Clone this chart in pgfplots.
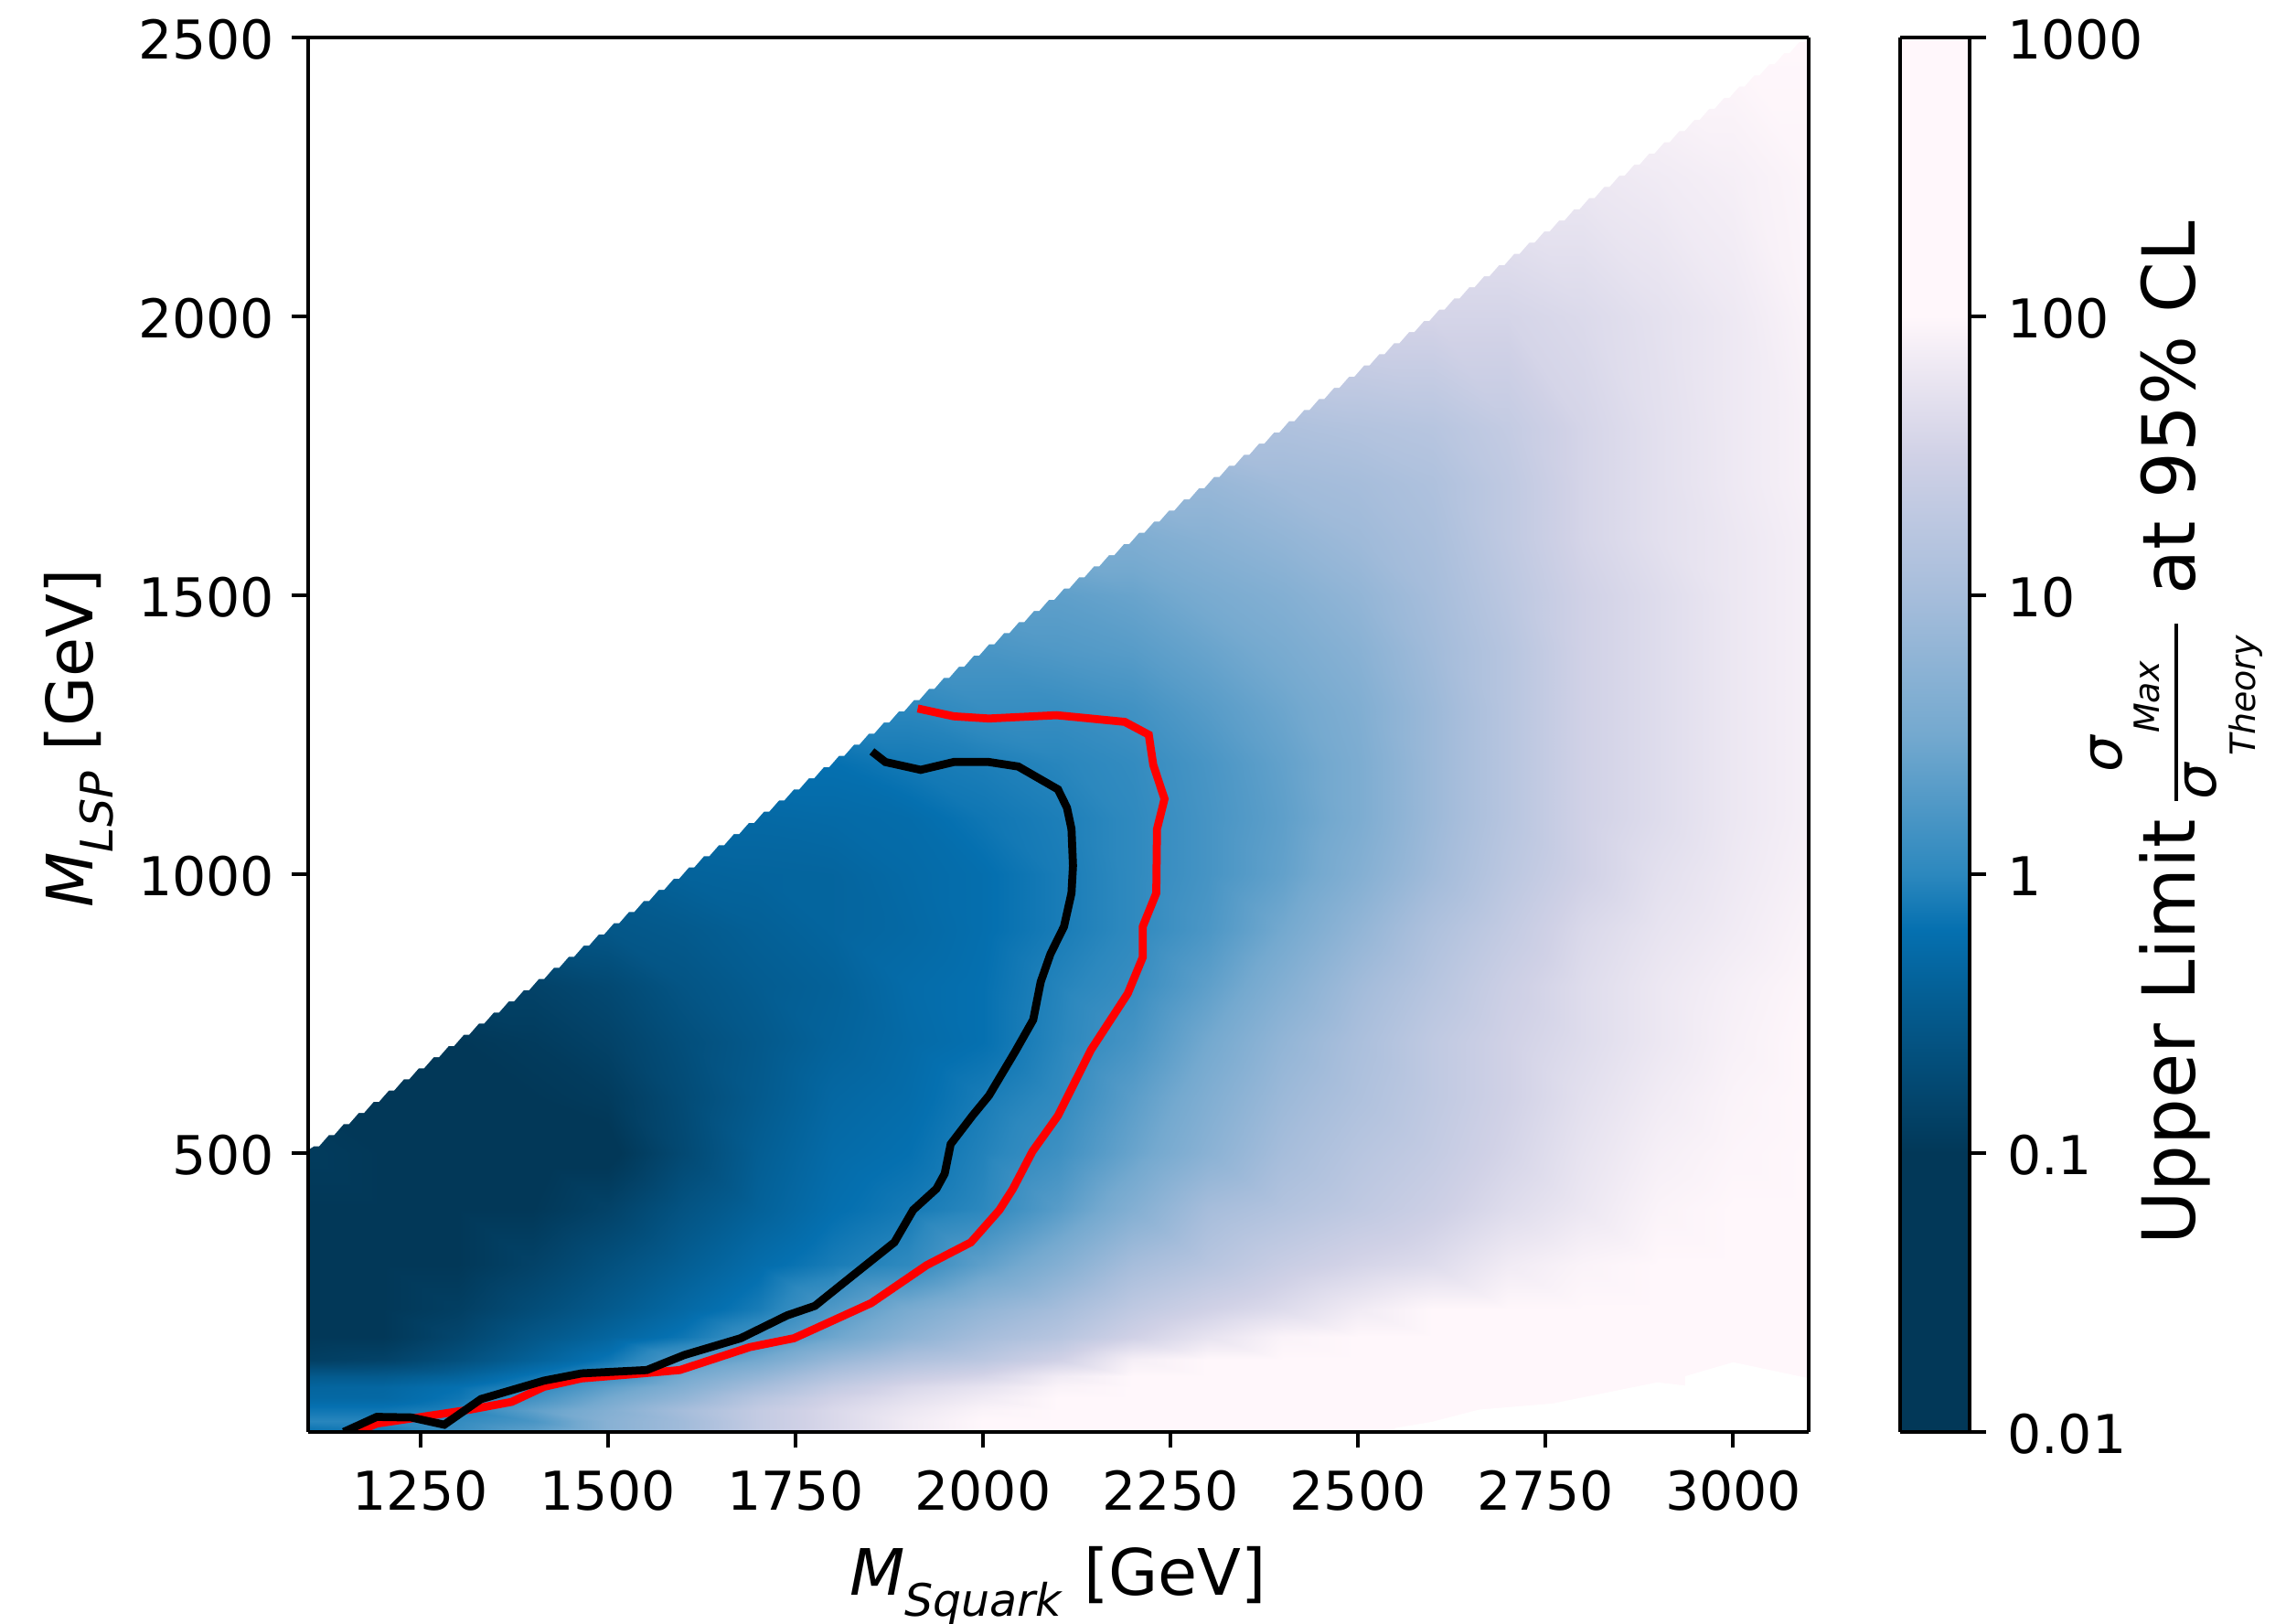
\documentclass[border=0pt]{standalone}
\usepackage{fontspec}
\setmainfont{DejaVu Sans}
\usepackage{pgfplots}
\pgfplotsset{compat=1.18}
\pgfplotsset{
  colormap={pubu}{
    rgb255(0cm)=(2,56,88); rgb255(10cm)=(2,56,88); rgb255(15cm)=(4,90,141);
    rgb255(18cm)=(5,112,176); rgb255(20cm)=(44,136,190); rgb255(25cm)=(116,169,207);
    rgb255(30cm)=(166,189,219); rgb255(35cm)=(208,209,230); rgb255(38cm)=(236,231,242);
    rgb255(40cm)=(255,247,251); rgb255(50cm)=(255,247,251)},
  colormap name=pubu,
  tick style={black,line width=0.8pt},
  major tick length=3.5pt,
}
\newcommand{\tl}{\fontsize{11.7}{12}\selectfont}
\newcommand{\al}{\fontsize{14}{14}\selectfont}
\begin{document}
\begin{tikzpicture}
\useasboundingbox (0,0) rectangle (500pt,355.2pt);
\begin{axis}[
  at={(67.3pt,42pt)},anchor=south west,scale only axis,width=328.2pt,height=305pt,
  view={0}{90},
  xmin=1100,xmax=3100,ymin=0,ymax=2500,
  point meta min=-2,point meta max=3,
  axis on top,axis line style={line width=0.8pt},
  tick align=outside,xtick pos=bottom,ytick pos=left,ztick=\empty,
  minor tick num=0,
  xtick={1250,1500,1750,2000,2250,2500,2750,3000},
  xticklabels={1250,1500,1750,2000,2250,2500,2750,3000},
  ytick={500,1000,1500,2000,2500},
  yticklabels={500,1000,1500,2000,2500},
  tick label style={font=\tl,inner sep=0pt},
  xticklabel style={yshift=-4.8pt},
  yticklabel style={xshift=-3.6pt,yshift=-0.5pt},
  xlabel={\al\textit{M}\raisebox{-0.32em}{\fontsize{9.8}{10}\selectfont\textit{Squark}} [GeV]},
  ylabel={\al\textit{M}\raisebox{-0.32em}{\fontsize{9.8}{10}\selectfont\textit{LSP}} [GeV]},
  every axis x label/.style={at={(axis description cs:0.5,0)},anchor=base,yshift=-35.8pt},
  every axis y label/.style={at={(axis description cs:-0.1432,0.4975)},rotate=90,anchor=base},
]
\addplot3[surf,shader=interp,mesh/cols=21,point meta=z,mesh/ordering=x varies] coordinates {
(1100,0,-0.2)(1200,0,-0.15)(1300,0,0.1)(1400,0,0.35)(1500,0,0.7)(1600,0,0.95)(1700,0,1.35)(1800,0,1.6)(1900,0,1.85)(2000,0,2)(2100,0,2)(2200,0,2)(2300,0,2)(2400,0,2)(2500,0,2)(2600,0,2)(2700,0,2)(2800,0,2)(2900,0,2)(3000,0,2)(3100,0,2)
(1100,20,-0.02)(1200,20,-0.02)(1300,20,0.05)(1400,20,0.2)(1500,20,0.7)(1600,20,0.95)(1700,20,1.35)(1800,20,1.6)(1900,20,1.85)(2000,20,2)(2100,20,2)(2200,20,2)(2300,20,2)(2400,20,2)(2500,20,2)(2600,20,2)(2700,20,2)(2800,20,2)(2900,20,2)(3000,20,2)(3100,20,2)
(1100,40,-0.15)(1200,40,-0.15)(1300,40,-0.05)(1400,40,0.35)(1500,40,0.65)(1600,40,1)(1700,40,1.35)(1800,40,1.6)(1900,40,1.8)(2000,40,1.95)(2100,40,2)(2200,40,2)(2300,40,2)(2400,40,2)(2500,40,2)(2600,40,2)(2700,40,2)(2800,40,2)(2900,40,2)(3000,40,2)(3100,40,2)
(1100,60,-0.3)(1200,60,-0.3)(1300,60,-0.15)(1400,60,0.15)(1500,60,0.5)(1600,60,0.8)(1700,60,1.2)(1800,60,1.5)(1900,60,1.7)(2000,60,1.85)(2100,60,2)(2200,60,2)(2300,60,2)(2400,60,2)(2500,60,2)(2600,60,2)(2700,60,2)(2800,60,2)(2900,60,2)(3000,60,2)(3100,60,2)
(1100,80,-0.35)(1200,80,-0.33)(1300,80,-0.2)(1400,80,0)(1500,80,0.35)(1600,80,0.65)(1700,80,1)(1800,80,1.35)(1900,80,1.6)(2000,80,1.75)(2100,80,1.95)(2200,80,2)(2300,80,2)(2400,80,2)(2500,80,2)(2600,80,2)(2700,80,2)(2800,80,2)(2900,80,2)(3000,80,2)(3100,80,2)
(1100,100,-0.5)(1200,100,-0.5)(1300,100,-0.38)(1400,100,-0.15)(1500,100,0.1)(1600,100,0.5)(1700,100,0.8)(1800,100,1.15)(1900,100,1.4)(2000,100,1.55)(2100,100,1.85)(2200,100,2)(2300,100,2)(2400,100,2)(2500,100,2)(2600,100,2)(2700,100,2)(2800,100,2)(2900,100,2)(3000,100,2)(3100,100,2)
(1100,130,-0.9)(1200,130,-0.85)(1300,130,-0.65)(1400,130,-0.4)(1500,130,-0.15)(1600,130,0.25)(1700,130,0.5)(1800,130,0.85)(1900,130,1.1)(2000,130,1.25)(2100,130,1.5)(2200,130,1.9)(2300,130,2)(2400,130,2)(2500,130,2)(2600,130,2)(2700,130,2)(2800,130,2)(2900,130,2)(3000,130,2)(3100,130,2)
(1100,170,-1)(1200,170,-1)(1300,170,-0.8)(1400,170,-0.55)(1500,170,-0.35)(1600,170,-0.15)(1700,170,0.15)(1800,170,0.45)(1900,170,0.75)(2000,170,1)(2100,170,1.2)(2200,170,1.5)(2300,170,1.75)(2400,170,1.95)(2500,170,2)(2600,170,2)(2700,170,2)(2800,170,2)(2900,170,2)(3000,170,2)(3100,170,2)
(1100,220,-1)(1200,220,-1)(1300,220,-0.9)(1400,220,-0.7)(1500,220,-0.5)(1600,220,-0.3)(1700,220,-0.1)(1800,220,0.25)(1900,220,0.55)(2000,220,0.8)(2100,220,1)(2200,220,1.3)(2300,220,1.5)(2400,220,1.65)(2500,220,1.85)(2600,220,2)(2700,220,2)(2800,220,2)(2900,220,2)(3000,220,2)(3100,220,2)
(1100,300,-1)(1200,300,-1)(1300,300,-1)(1400,300,-0.85)(1500,300,-0.65)(1600,300,-0.45)(1700,300,-0.25)(1800,300,-0.1)(1900,300,0.02)(2000,300,0.35)(2100,300,0.65)(2200,300,1)(2300,300,1.2)(2400,300,1.4)(2500,300,1.55)(2600,300,1.65)(2700,300,1.85)(2800,300,1.95)(2900,300,2)(3000,300,2)(3100,300,2)
(1100,400,-1)(1200,400,-1)(1300,400,-1)(1400,400,-1)(1500,400,-0.85)(1600,400,-0.6)(1700,400,-0.4)(1800,400,-0.22)(1900,400,-0.12)(2000,400,0)(2100,400,0.3)(2200,400,0.65)(2300,400,1)(2400,400,1.15)(2500,400,1.3)(2600,400,1.45)(2700,400,1.65)(2800,400,1.8)(2900,400,1.95)(3000,400,2)(3100,400,2)
(1100,500,-0.95)(1200,500,-1)(1300,500,-1.05)(1400,500,-1.05)(1500,500,-1.05)(1600,500,-0.75)(1700,500,-0.45)(1800,500,-0.27)(1900,500,-0.2)(2000,500,-0.05)(2100,500,0.12)(2200,500,0.42)(2300,500,0.72)(2400,500,1)(2500,500,1.2)(2600,500,1.35)(2700,500,1.55)(2800,500,1.75)(2900,500,1.9)(3000,500,1.97)(3100,500,2)
(1100,600,-1)(1200,600,-1)(1300,600,-1)(1400,600,-1)(1500,600,-0.95)(1600,600,-0.72)(1700,600,-0.5)(1800,600,-0.32)(1900,600,-0.25)(2000,600,-0.1)(2100,600,0.03)(2200,600,0.32)(2300,600,0.62)(2400,600,0.9)(2500,600,1.1)(2600,600,1.3)(2700,600,1.5)(2800,600,1.7)(2900,600,1.85)(3000,600,1.95)(3100,600,2)
(1100,700,-1)(1200,700,-1)(1300,700,-1)(1400,700,-0.95)(1500,700,-0.85)(1600,700,-0.67)(1700,700,-0.52)(1800,700,-0.38)(1900,700,-0.28)(2000,700,-0.2)(2100,700,-0.02)(2200,700,0.18)(2300,700,0.5)(2400,700,0.8)(2500,700,1.05)(2600,700,1.3)(2700,700,1.5)(2800,700,1.65)(2900,700,1.8)(3000,700,1.92)(3100,700,2)
(1100,800,-0.85)(1200,800,-0.85)(1300,800,-0.85)(1400,800,-0.85)(1500,800,-0.75)(1600,800,-0.58)(1700,800,-0.47)(1800,800,-0.4)(1900,800,-0.26)(2000,800,-0.2)(2100,800,-0.04)(2200,800,0.08)(2300,800,0.35)(2400,800,0.65)(2500,800,0.95)(2600,800,1.2)(2700,800,1.45)(2800,800,1.65)(2900,800,1.8)(3000,800,1.9)(3100,800,1.98)
(1100,900,-0.6)(1200,900,-0.6)(1300,900,-0.6)(1400,900,-0.6)(1500,900,-0.55)(1600,900,-0.5)(1700,900,-0.42)(1800,900,-0.35)(1900,900,-0.3)(2000,900,-0.22)(2100,900,-0.1)(2200,900,0.02)(2300,900,0.22)(2400,900,0.5)(2500,900,0.8)(2600,900,1.1)(2700,900,1.35)(2800,900,1.6)(2900,900,1.75)(3000,900,1.85)(3100,900,1.95)
(1100,1000,-0.45)(1200,1000,-0.45)(1300,1000,-0.45)(1400,1000,-0.45)(1500,1000,-0.45)(1600,1000,-0.38)(1700,1000,-0.36)(1800,1000,-0.35)(1900,1000,-0.28)(2000,1000,-0.22)(2100,1000,-0.1)(2200,1000,0.02)(2300,1000,0.18)(2400,1000,0.38)(2500,1000,0.65)(2600,1000,0.95)(2700,1000,1.25)(2800,1000,1.5)(2900,1000,1.7)(3000,1000,1.82)(3100,1000,1.92)
(1100,1100,-0.3)(1200,1100,-0.3)(1300,1100,-0.3)(1400,1100,-0.3)(1500,1100,-0.3)(1600,1100,-0.3)(1700,1100,-0.3)(1800,1100,-0.28)(1900,1100,-0.25)(2000,1100,-0.15)(2100,1100,-0.08)(2200,1100,0.02)(2300,1100,0.18)(2400,1100,0.35)(2500,1100,0.58)(2600,1100,0.9)(2700,1100,1.2)(2800,1100,1.5)(2900,1100,1.65)(3000,1100,1.8)(3100,1100,1.9)
(1100,1200,-0.2)(1200,1200,-0.2)(1300,1200,-0.2)(1400,1200,-0.2)(1500,1200,-0.2)(1600,1200,-0.2)(1700,1200,-0.2)(1800,1200,-0.2)(1900,1200,-0.12)(2000,1200,-0.08)(2100,1200,-0.02)(2200,1200,0.05)(2300,1200,0.2)(2400,1200,0.38)(2500,1200,0.58)(2600,1200,0.9)(2700,1200,1.2)(2800,1200,1.5)(2900,1200,1.65)(3000,1200,1.8)(3100,1200,1.9)
(1100,1300,0)(1200,1300,0)(1300,1300,0)(1400,1300,0)(1500,1300,0)(1600,1300,0)(1700,1300,0)(1800,1300,0)(1900,1300,0)(2000,1300,0.08)(2100,1300,0.08)(2200,1300,0.15)(2300,1300,0.3)(2400,1300,0.45)(2500,1300,0.62)(2600,1300,0.9)(2700,1300,1.2)(2800,1300,1.5)(2900,1300,1.65)(3000,1300,1.8)(3100,1300,1.9)
(1100,1400,0.2)(1200,1400,0.2)(1300,1400,0.2)(1400,1400,0.2)(1500,1400,0.2)(1600,1400,0.2)(1700,1400,0.2)(1800,1400,0.2)(1900,1400,0.2)(2000,1400,0.2)(2100,1400,0.25)(2200,1400,0.3)(2300,1400,0.42)(2400,1400,0.55)(2500,1400,0.7)(2600,1400,0.95)(2700,1400,1.2)(2800,1400,1.5)(2900,1400,1.65)(3000,1400,1.8)(3100,1400,1.9)
(1100,1500,0.35)(1200,1500,0.35)(1300,1500,0.35)(1400,1500,0.35)(1500,1500,0.35)(1600,1500,0.35)(1700,1500,0.35)(1800,1500,0.35)(1900,1500,0.35)(2000,1500,0.35)(2100,1500,0.35)(2200,1500,0.42)(2300,1500,0.55)(2400,1500,0.65)(2500,1500,0.8)(2600,1500,1)(2700,1500,1.25)(2800,1500,1.5)(2900,1500,1.65)(3000,1500,1.8)(3100,1500,1.9)
(1100,1600,0.6)(1200,1600,0.6)(1300,1600,0.6)(1400,1600,0.6)(1500,1600,0.6)(1600,1600,0.6)(1700,1600,0.6)(1800,1600,0.6)(1900,1600,0.6)(2000,1600,0.6)(2100,1600,0.6)(2200,1600,0.6)(2300,1600,0.7)(2400,1600,0.8)(2500,1600,0.92)(2600,1600,1.05)(2700,1600,1.3)(2800,1600,1.55)(2900,1600,1.7)(3000,1600,1.8)(3100,1600,1.9)
(1100,1700,0.85)(1200,1700,0.85)(1300,1700,0.85)(1400,1700,0.85)(1500,1700,0.85)(1600,1700,0.85)(1700,1700,0.85)(1800,1700,0.85)(1900,1700,0.85)(2000,1700,0.85)(2100,1700,0.85)(2200,1700,0.85)(2300,1700,0.85)(2400,1700,0.95)(2500,1700,1)(2600,1700,1.1)(2700,1700,1.3)(2800,1700,1.55)(2900,1700,1.7)(3000,1700,1.82)(3100,1700,1.92)
(1100,1800,1.1)(1200,1800,1.1)(1300,1800,1.1)(1400,1800,1.1)(1500,1800,1.1)(1600,1800,1.1)(1700,1800,1.1)(1800,1800,1.1)(1900,1800,1.1)(2000,1800,1.1)(2100,1800,1.1)(2200,1800,1.1)(2300,1800,1.1)(2400,1800,1.1)(2500,1800,1.15)(2600,1800,1.2)(2700,1800,1.35)(2800,1800,1.55)(2900,1800,1.7)(3000,1800,1.82)(3100,1800,1.92)
(1100,2000,1.55)(1200,2000,1.55)(1300,2000,1.55)(1400,2000,1.55)(1500,2000,1.55)(1600,2000,1.55)(1700,2000,1.55)(1800,2000,1.55)(1900,2000,1.55)(2000,2000,1.55)(2100,2000,1.55)(2200,2000,1.55)(2300,2000,1.55)(2400,2000,1.55)(2500,2000,1.55)(2600,2000,1.55)(2700,2000,1.55)(2800,2000,1.62)(2900,2000,1.72)(3000,2000,1.82)(3100,2000,1.95)
(1100,2250,1.8)(1200,2250,1.8)(1300,2250,1.8)(1400,2250,1.8)(1500,2250,1.8)(1600,2250,1.8)(1700,2250,1.8)(1800,2250,1.8)(1900,2250,1.8)(2000,2250,1.8)(2100,2250,1.8)(2200,2250,1.8)(2300,2250,1.8)(2400,2250,1.8)(2500,2250,1.8)(2600,2250,1.8)(2700,2250,1.8)(2800,2250,1.8)(2900,2250,1.85)(3000,2250,1.9)(3100,2250,1.97)
(1100,2500,2)(1200,2500,2)(1300,2500,2)(1400,2500,2)(1500,2500,2)(1600,2500,2)(1700,2500,2)(1800,2500,2)(1900,2500,2)(2000,2500,2)(2100,2500,2)(2200,2500,2)(2300,2500,2)(2400,2500,2)(2500,2500,2)(2600,2500,2)(2700,2500,2)(2800,2500,2)(2900,2500,2)(3000,2500,2)(3100,2500,2)
};
% region without data: above the kinematic limit, with the notched edge of the data grid
\addplot[fill=white,draw=none] coordinates {(1100,505)(1108,512)(1115,512)(1128,532)(1135,532)(1148,552)(1155,552)(1168,572)(1175,572)(1188,592)(1195,592)(1208,612)(1215,612)(1228,632)(1235,632)(1248,652)(1255,652)(1268,672)(1275,672)(1288,692)(1295,692)(1308,712)(1315,712)(1328,732)(1335,732)(1348,752)(1355,752)(1368,772)(1375,772)(1388,792)(1395,792)(1408,812)(1415,812)(1428,832)(1435,832)(1448,852)(1455,852)(1468,872)(1475,872)(1488,892)(1495,892)(1508,912)(1515,912)(1528,932)(1535,932)(1548,952)(1555,952)(1568,972)(1575,972)(1588,992)(1595,992)(1608,1012)(1615,1012)(1628,1032)(1635,1032)(1648,1052)(1655,1052)(1668,1072)(1675,1072)(1688,1092)(1695,1092)(1708,1112)(1715,1112)(1728,1132)(1735,1132)(1748,1152)(1755,1152)(1768,1172)(1775,1172)(1788,1192)(1795,1192)(1808,1212)(1815,1212)(1828,1232)(1835,1232)(1848,1252)(1855,1252)(1868,1272)(1875,1272)(1888,1292)(1895,1292)(1908,1312)(1915,1312)(1928,1332)(1935,1332)(1948,1352)(1955,1352)(1968,1372)(1975,1372)(1988,1392)(1995,1392)(2008,1412)(2015,1412)(2028,1432)(2035,1432)(2048,1452)(2055,1452)(2068,1472)(2075,1472)(2088,1492)(2095,1492)(2108,1512)(2115,1512)(2128,1532)(2135,1532)(2148,1552)(2155,1552)(2168,1572)(2175,1572)(2188,1592)(2195,1592)(2208,1612)(2215,1612)(2228,1632)(2235,1632)(2248,1652)(2255,1652)(2268,1672)(2275,1672)(2288,1692)(2295,1692)(2308,1712)(2315,1712)(2328,1732)(2335,1732)(2348,1752)(2355,1752)(2368,1772)(2375,1772)(2388,1792)(2395,1792)(2408,1812)(2415,1812)(2428,1832)(2435,1832)(2448,1852)(2455,1852)(2468,1872)(2475,1872)(2488,1892)(2495,1892)(2508,1912)(2515,1912)(2528,1932)(2535,1932)(2548,1952)(2555,1952)(2568,1972)(2575,1972)(2588,1992)(2595,1992)(2608,2012)(2615,2012)(2628,2032)(2635,2032)(2648,2052)(2655,2052)(2668,2072)(2675,2072)(2688,2092)(2695,2092)(2708,2112)(2715,2112)(2728,2132)(2735,2132)(2748,2152)(2755,2152)(2768,2172)(2775,2172)(2788,2192)(2795,2192)(2808,2212)(2815,2212)(2828,2232)(2835,2232)(2848,2252)(2855,2252)(2868,2272)(2875,2272)(2888,2292)(2895,2292)(2908,2312)(2915,2312)(2928,2332)(2935,2332)(2948,2352)(2955,2352)(2968,2372)(2975,2372)(2988,2392)(2995,2392)(3008,2412)(3015,2412)(3028,2432)(3035,2432)(3048,2452)(3055,2452)(3068,2472)(3075,2472)(3088,2492)(3095,2492)(3100,2500)(1100,2500)} --cycle;
% region without data: lower right corner
\addplot[fill=white,draw=none] coordinates {(2549,0)(2549,7)(2598,18)(2661,40)(2759,51)(2899,89)(2936,83)(2936,100)(3000,125)(3098,97)(3100,97)(3100,0)} --cycle;
\addplot[red,line width=1.75pt] coordinates {(1913,1297)(1961,1283)(2008,1279)(2098,1285)(2189,1273)(2221,1250)(2227,1196)(2242,1135)(2232,1081)(2231,966)(2213,906)(2213,851)(2193,786)(2144,685)(2100,567)(2066,503)(2040,436)(2022,398)(1984,340)(1925,299)(1851,231)(1776,185)(1748,168)(1689,152)(1596,111)(1546,105)(1465,96)(1415,81)(1372,54)(1316,40)(1247,26)(1192,15)(1166,0)};
\addplot[black,line width=1.75pt] coordinates {(1852,1220)(1870,1201)(1917,1187)(1961,1201)(2008,1201)(2047,1193)(2100,1152)(2112,1119)(2118,1081)(2120,1015)(2118,966)(2108,906)(2090,857)(2077,807)(2067,739)(2043,682)(2008,603)(1986,567)(1957,516)(1949,463)(1938,436)(1907,398)(1882,340)(1826,280)(1776,226)(1739,209)(1677,168)(1602,138)(1552,111)(1465,105)(1415,92)(1331,59)(1282,13)(1238,26)(1192,27)(1148,0)};
\end{axis}
\begin{axis}[
  at={(415.6pt,42pt)},anchor=south west,scale only axis,width=15.2pt,height=305pt,
  view={0}{90},
  xmin=0,xmax=1,ymin=-2,ymax=3,
  point meta min=-2,point meta max=3,
  axis on top,axis line style={line width=0.8pt},
  xtick=\empty,ztick=\empty,
  tick align=outside,ytick pos=right,
  ytick={-2,-1,0,1,2,3},
  yticklabels={0.01,0.1,1,10,100,1000},
  tick label style={font=\tl,inner sep=0pt},
  yticklabel style={xshift=4.5pt,yshift=-0.5pt},
]
\addplot3[surf,shader=interp,mesh/cols=2,point meta=z,mesh/ordering=x varies] coordinates {
(0,-2,-2)(1,-2,-2)
(0,-1,-1)(1,-1,-1)
(0,-0.5,-0.5)(1,-0.5,-0.5)
(0,-0.2,-0.2)(1,-0.2,-0.2)
(0,0,0)(1,0,0)
(0,0.5,0.5)(1,0.5,0.5)
(0,1,1)(1,1,1)
(0,1.5,1.5)(1,1.5,1.5)
(0,1.8,1.8)(1,1.8,1.8)
(0,2,2)(1,2,2)
(0,3,3)(1,3,3)
};
\end{axis}
% colour bar label, built from separate pieces turned by 90 degrees
\begin{scope}[every node/.style={rotate=90,inner sep=0pt,anchor=base west}]
\node at (480pt,82.6pt) {\fontsize{16}{16}\selectfont Upper Limit};
\node at (480pt,224.8pt) {\fontsize{16}{16}\selectfont at 95\% CL};
\draw[line width=0.8pt] (476pt,180pt) -- (476pt,218.8pt);
\node at (464pt,186pt) {\fontsize{12.5}{12.5}\selectfont\textit{σ}};
\node at (472.3pt,194.6pt) {\fontsize{7.6}{8}\selectfont\textit{Max}};
\node at (484.7pt,180pt) {\fontsize{12.5}{12.5}\selectfont\textit{σ}};
\node at (493.3pt,189.6pt) {\fontsize{7.6}{8}\selectfont\textit{Theory}};
\end{scope}
\end{tikzpicture}
\end{document}
